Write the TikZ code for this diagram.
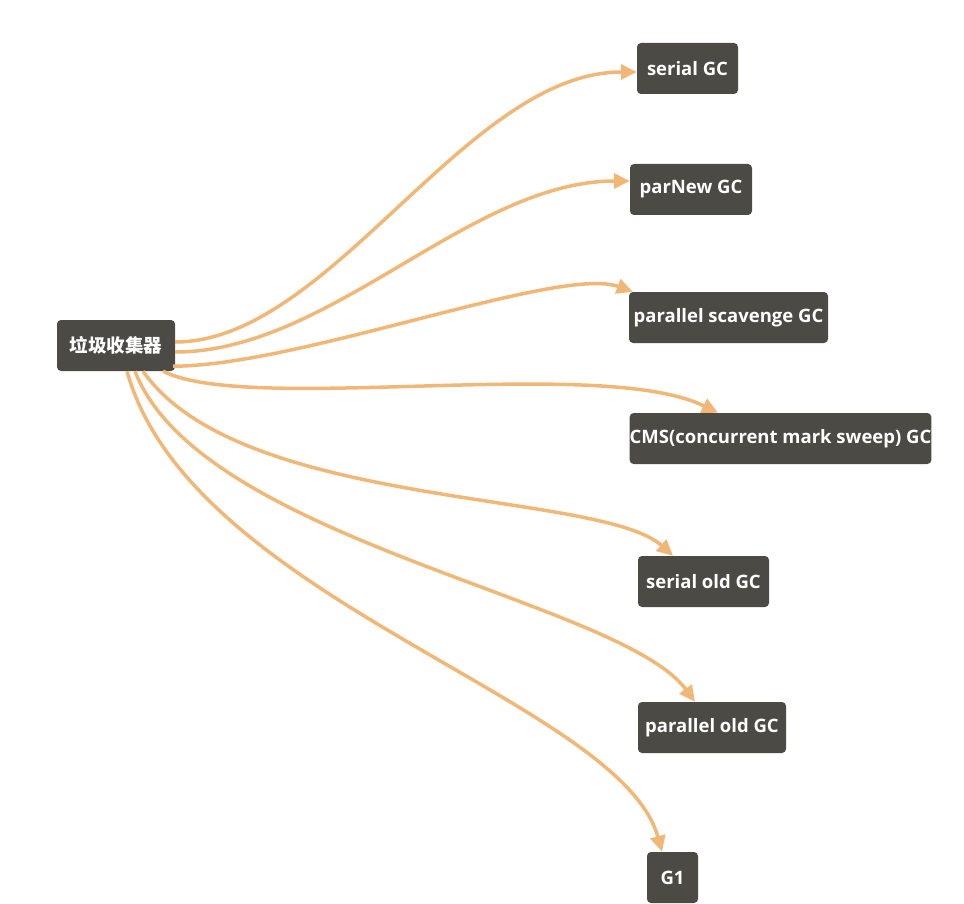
\documentclass[tikz,border=0pt]{standalone}
\usepackage{fontspec}
\setmainfont{Open Sans}
\newfontfamily\cjk{Noto Sans CJK SC}
\definecolor{boxgray}{RGB}{75, 74, 68}
\definecolor{linkorange}{RGB}{241, 183, 118}
\usetikzlibrary{arrows.meta}

\begin{document}
\begin{tikzpicture}[
  x=1pt, y=-1pt,
  gc/.style={fill=boxgray, rounded corners=4pt, text=white, minimum height=51pt, inner sep=0pt, font=\fontsize{18.5}{20}\selectfont\bfseries},
  link/.style={draw=linkorange, line width=3.5pt, -{Triangle[length=16pt, width=15pt]}}
]
  \useasboundingbox (0,0) rectangle (964,904);
  \node[gc, minimum width=118pt] (root) at (116, 345.5) {\cjk 垃圾收集器};
  \node[gc, minimum width=101pt] (serial) at (687.5, 68.5) {serial GC};
  \node[gc, minimum width=122pt] (parnew) at (691, 189.5) {parNew GC};
  \node[gc, minimum width=199pt] (scav) at (728.5, 317.5) {parallel scavenge GC};
  \node[gc, minimum width=301pt] (cms) at (780.5, 438.5) {CMS(concurrent mark sweep) GC};
  \node[gc, minimum width=131pt] (serialold) at (703.5, 581.5) {serial old GC};
  \node[gc, minimum width=148pt] (parold) at (712, 727.5) {parallel old GC};
  \node[gc, minimum width=51pt] (gone) at (672.5, 877.5) {G1};

  \draw[link] ([yshift=3.5pt]root.east) .. controls (330, 342) and (466, 72) .. ([yshift=-3.5pt]serial.west);
  \draw[link] ([yshift=-6.5pt]root.east) .. controls (330, 352) and (470, 181) .. ([yshift=8.5pt]parnew.west);
  \draw[link] ([xshift=-2pt, yshift=5pt]root.south east) .. controls (300, 366) and (560, 265) .. ([xshift=4pt]scav.north west);
  \draw[link] ([xshift=47pt]root.south) .. controls (250, 415) and (600, 355) .. ([xshift=-62.5pt]cms.north);
  \draw[link] ([xshift=27pt]root.south) .. controls (240, 510) and (600, 490) .. ([xshift=-30.5pt]serialold.north);
  \draw[link] ([xshift=19pt]root.south) .. controls (200, 540) and (620, 600) .. ([xshift=-17pt]parold.north);
  \draw[link] ([xshift=11pt]root.south) .. controls (190, 600) and (620, 700) .. ([xshift=-10.5pt]gone.north);
\end{tikzpicture}
\end{document}
